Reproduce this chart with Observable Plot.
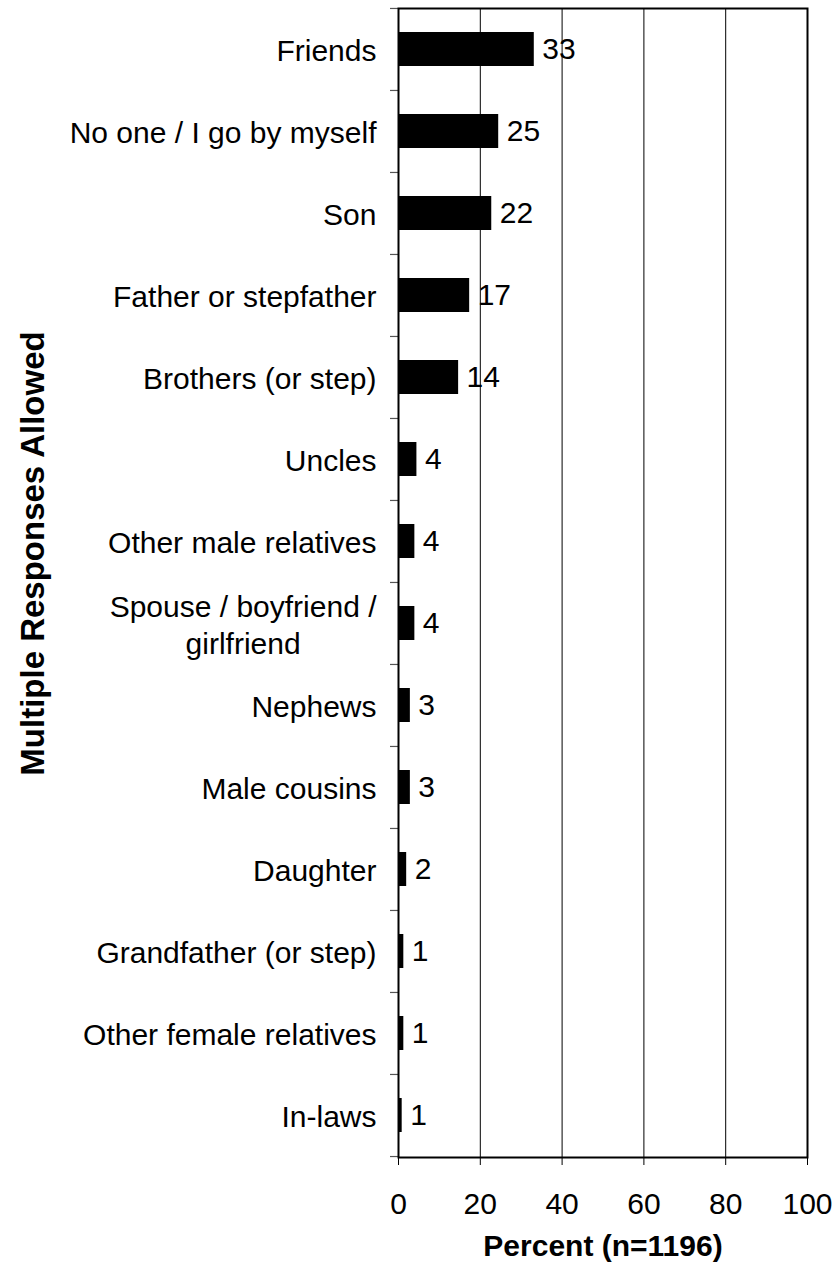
<!DOCTYPE html>
<html><head><meta charset="utf-8">
<script src="https://cdn.jsdelivr.net/npm/d3@7"></script>
<script src="https://cdn.jsdelivr.net/npm/@observablehq/plot@0.6"></script>
<style>body{margin:0;background:#fff} svg{display:block}</style>
</head><body><div id="chart"></div>
<script>
const categories = ["Friends","No one / I go by myself","Son","Father or stepfather","Brothers (or step)","Uncles","Other male relatives","Spouse / boyfriend /\ngirlfriend","Nephews","Male cousins","Daughter","Grandfather (or step)","Other female relatives","In-laws"];
const values = [33.2, 24.5, 22.8, 17.4, 14.7, 4.5, 4.0, 4.0, 2.9, 2.9, 2.0, 1.3, 1.3, 0.9];
const valueLabels = [33, 25, 22, 17, 14, 4, 4, 4, 3, 3, 2, 1, 1, 1];
const xTicks = [0, 20, 40, 60, 80, 100];
const xTitle = "Percent (n=1196)";
const yTitle = "Multiple Responses Allowed";

const data = categories.map((c, i) => ({category: c, value: values[i], label: valueLabels[i]}));

const W = 837, H = 1268, mL = 398, mR = 30, mT = 8, mB = 111;
const step = (H - mT - mB) / categories.length;
const font = "'Liberation Sans', Arial, Helvetica, sans-serif";
const pad = 0.585;

const chart = Plot.plot({
  width: W, height: H, marginLeft: mL, marginRight: mR, marginTop: mT, marginBottom: mB,
  style: {fontFamily: font, fontSize: "30px", color: "#000", background: "#fff", overflow: "visible"},
  x: {domain: [0, 100]},
  y: {domain: categories, paddingInner: pad, paddingOuter: pad / 2, align: 0.5},
  marks: [
    Plot.gridX(xTicks, {stroke: "#000", strokeOpacity: 1, strokeWidth: 1}),
    Plot.barX(data, {x: "value", y: "category", fill: "#000"}),
    Plot.text(data, {x: "value", y: "category", text: d => String(d.label), textAnchor: "start", dx: 8, fontSize: 30, fill: "#000"}),
    Plot.ruleY(categories, {y: d => d, x1: 0, x2: 0, insetLeft: -8, dy: -step / 2, stroke: "#555", strokeWidth: 1.2}),
    Plot.ruleY(categories.slice(-1), {y: d => d, x1: 0, x2: 0, insetLeft: -8, dy: step / 2, stroke: "#555", strokeWidth: 1.2}),
    Plot.axisX({ticks: xTicks, tickSize: 8, tickPadding: 27, fontSize: 30, label: null, stroke: "#000"}),
    Plot.axisY({tickSize: 0, tickPadding: 22, fontSize: 30, label: null, lineHeight: 1.24}),
    Plot.frame({stroke: "#000", strokeWidth: 2}),
    Plot.text([xTitle], {text: d => d, frameAnchor: "bottom", textAnchor: "middle", dy: 98, fontWeight: "bold", fontSize: 30, fill: "#000"}),
    Plot.text([yTitle], {text: d => d, frameAnchor: "left", textAnchor: "middle", rotate: -90, dx: -365, dy: -29.5, fontWeight: "bold", fontSize: 33, fill: "#000"})
  ]
});
document.getElementById("chart").appendChild(chart);

// center the two-line tick label like the original
chart.querySelectorAll("text").forEach(t => {
  if (t.textContent.startsWith("Spouse")) {
    const spans = t.querySelectorAll("tspan");
    if (spans.length > 1) {
      const w = spans[0].getComputedTextLength();
      t.setAttribute("text-anchor", "middle");
      spans.forEach(s => s.setAttribute("x", String(-w / 2)));
    }
  }
});
</script>
</body></html>
